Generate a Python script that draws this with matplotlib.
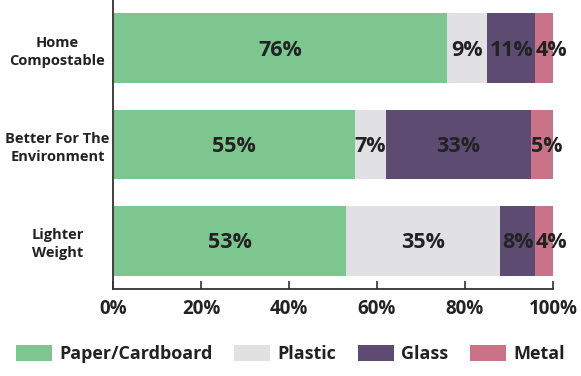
import numpy as np
import matplotlib.pyplot as plt
from matplotlib.patches import Patch

plt.rcParams['font.family'] = ['Open Sans', 'DejaVu Sans']
plt.rcParams['font.weight'] = 'bold'

categories = ['Home\nCompostable', 'Better For The\nEnvironment', 'Lighter\nWeight']
materials = ['Paper/Cardboard', 'Plastic', 'Glass', 'Metal']
paper = [76, 55, 53]
plastic = [9, 7, 35]
glass = [11, 33, 8]
metal = [4, 5, 4]
colors = ['#7dc68f', '#e1e1e3', '#5e4b72', '#c97288']

series = [paper, plastic, glass, metal]
text_col = '#222222'

fig = plt.figure(figsize=(5.81, 3.76), dpi=100)
ax = fig.add_axes([113 / 581, 1 - 289 / 376, 440 / 581, 289 / 376])

y = np.arange(len(categories))
left = np.zeros(len(categories))
for vals, col in zip(series, colors):
    vals = np.array(vals, dtype=float)
    ax.barh(y, vals, left=left, height=0.72, color=col, edgecolor='none')
    for yi, l, v in zip(y, left, vals):
        # narrow segments: start the label at the segment's left edge
        if v < 6:
            ax.text(l + 0.1, yi + 0.02, f'{int(v)}%', ha='left', va='center',
                    fontsize=15.5, color=text_col, fontweight='bold')
        else:
            ax.text(l + v / 2, yi + 0.02, f'{int(v)}%', ha='center', va='center',
                    fontsize=15.5, color=text_col, fontweight='bold')
    left += vals

ax.set_xlim(0, 100)
ax.set_ylim(2.5, -0.5)
ax.set_yticks(y)
ax.set_yticklabels(categories, fontsize=10.5, color=text_col, ha='center',
                   linespacing=1.35)
ax.tick_params(axis='y', length=0, pad=40)
ax.set_xticks(np.arange(0, 101, 20))
ax.set_xticklabels([f'{t}%' for t in range(0, 101, 20)], fontsize=13.5, color=text_col)
ax.tick_params(axis='x', direction='in', length=6, width=1.2, color='#333333', pad=7)

for s in ['top', 'right']:
    ax.spines[s].set_visible(False)
for s in ['left', 'bottom']:
    ax.spines[s].set_color('#333333')
    ax.spines[s].set_linewidth(1.3)

handles = [Patch(facecolor=c, edgecolor='none') for c in colors]
fig.legend(handles, materials, loc='center', bbox_to_anchor=(0.5, 1 - 354 / 376),
           ncol=4, frameon=False, fontsize=13, handlelength=2.0, handleheight=0.95,
           handletextpad=0.4, columnspacing=1.2, labelcolor=text_col)

fig.savefig('out.png', dpi=100)
